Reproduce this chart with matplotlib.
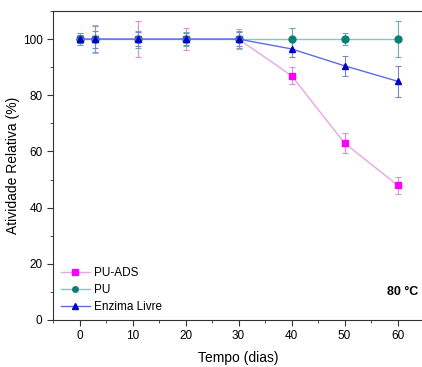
import numpy as np
import matplotlib
matplotlib.use("Agg")
import matplotlib.pyplot as plt
from matplotlib.ticker import MultipleLocator

plt.rcParams["font.family"] = ["Liberation Sans", "DejaVu Sans"]

# ── data ──
dias = [0, 3, 11, 20, 30, 40, 50, 60]

pu_ads = [100, 100, 100, 100, 100, 87, 63, 48]
pu_ads_err = [2, 5, 6.5, 4, 3.5, 3, 3.5, 3]

pu = [100, 100, 100, 100, 100, 100, 100, 100]
pu_err = [2, 4.5, 3, 2.5, 3, 4, 2, 6.5]

livre = [100, 100, 100, 100, 100, 96.5, 90.5, 85]
livre_err = [1.5, 3, 2.5, 2, 2.5, 3, 3.5, 5.5]

series = [
    ("PU-ADS", pu_ads, pu_ads_err, "s", "#ff00ff", "#e8a6e8", "#d890d8"),
    ("PU", pu, pu_err, "o", "#0f7f73", "#7fc8c4", "#6aaeaa"),
    ("Enzima Livre", livre, livre_err, "^", "#0000cc", "#5c6ee0", "#7a86c8"),
]

fig = plt.figure(figsize=(4.22, 3.67), dpi=100)
ax = fig.add_axes([53 / 422, 1 - 320 / 367, 371 / 422, 309 / 367])

for label, y, err, mk, mc, lc, ec in series:
    ax.errorbar(dias, y, yerr=err, fmt="none", ecolor=ec, elinewidth=0.8,
                capsize=2.5, capthick=0.8, zorder=2)
    ax.plot(dias, y, color=lc, lw=1.0, marker=mk, markersize=5,
            markerfacecolor=mc, markeredgecolor=mc, label=label, zorder=3)

ax.set_xlim(-5, 65)
ax.set_ylim(0, 110)
ax.xaxis.set_major_locator(MultipleLocator(10))
ax.xaxis.set_minor_locator(MultipleLocator(5))
ax.yaxis.set_major_locator(MultipleLocator(20))
ax.yaxis.set_minor_locator(MultipleLocator(10))
ax.tick_params(which="both", direction="out", labelsize=8.5, color="#333333")
ax.tick_params(which="major", length=4)
ax.tick_params(which="minor", length=2.5)
for sp in ax.spines.values():
    sp.set_color("#333333")
ax.spines["right"].set_visible(False)

ax.set_xlabel("Tempo (dias)", fontsize=10, labelpad=6)
ax.set_ylabel("Atividade Relativa (%)", fontsize=10, labelpad=2)

ax.legend(loc="lower left", frameon=False, fontsize=8.5, handlelength=2.4,
          labelspacing=0.42, handletextpad=0.35, borderaxespad=0.3,
          markerscale=0.8, bbox_to_anchor=(0.0, -0.005))
ax.text(0.985, 0.09, "80 °C", transform=ax.transAxes, ha="right",
        va="center", fontsize=9, fontweight="bold")

fig.savefig("out.png", dpi=100)
